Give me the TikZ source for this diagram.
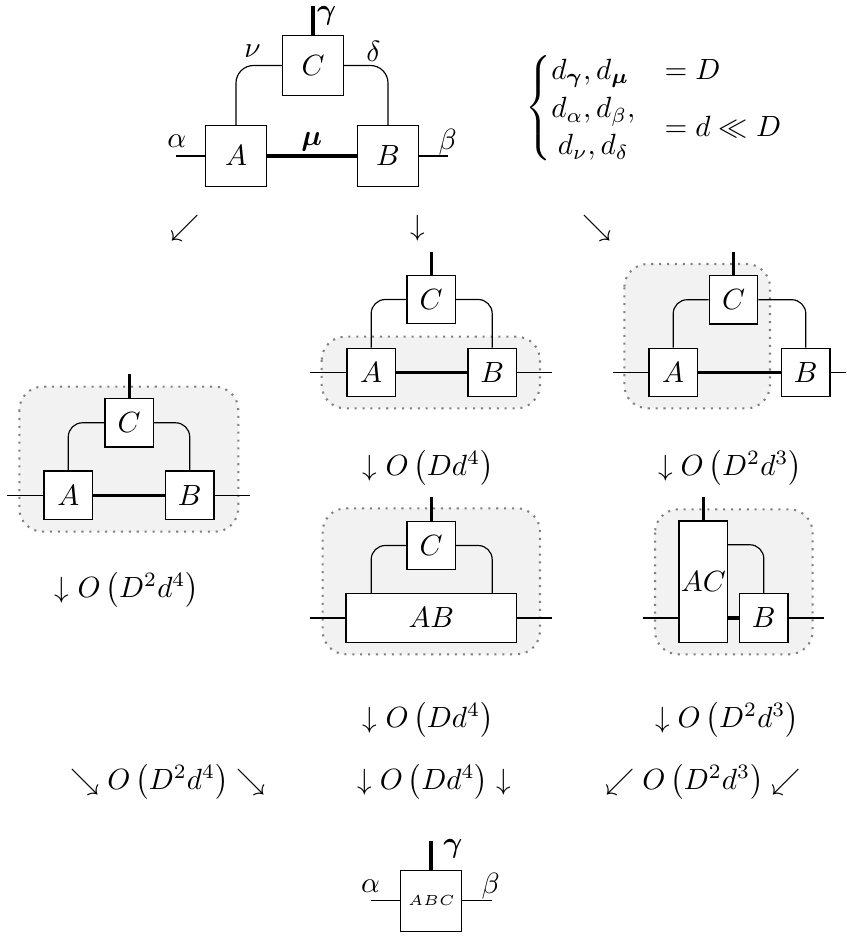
\documentclass[tikz,border=0pt]{standalone}
\usepackage{amsmath,amssymb}
\begin{document}
\begin{tikzpicture}[x=0.342pt,y=-0.342pt,
  bigbox/.style={draw,fill=white,minimum size=20.8pt,inner sep=0pt,line width=0.4pt},
  smallbox/.style={draw,fill=white,minimum size=16.6pt,inner sep=0pt,line width=0.4pt},
  wire/.style={line width=0.4pt,rounded corners=6pt},
  swire/.style={line width=0.4pt,rounded corners=4.8pt},
  bond/.style={line width=1.4pt},
  sbond/.style={line width=1.1pt},
  group/.style={draw=gray,dotted,line width=0.7pt,fill=gray!10,rounded corners=8pt},
  lbl/.style={inner sep=0pt}]
\useasboundingbox (0,0) rectangle (846,936);

% ---------- contraction groups (drawn first, behind the tensors)
\path[group] (19.3,386.7) rectangle (238.3,531.7);
\path[group] (321.7,336.7) rectangle (540,408.3);
\path[group] (624.3,264) rectangle (770,408.3);
\path[group] (322.7,508.3) rectangle (540,654.3);
\path[group] (655,509.3) rectangle (812.7,654.3);

% ---------- original network
\node[bigbox] (C0) at (313,65.5) {$C$};
\node[bigbox] (A0) at (236,156) {$A$};
\node[bigbox] (B0) at (388,156) {$B$};
\coordinate (g0) at (313,6);
\coordinate (a0) at (176,156);
\coordinate (b0) at (447.7,156);
\draw[wire] (C0.west) -| (A0.north);
\draw[wire] (C0.east) -| (B0.north);
\draw[bond] (A0) -- (B0);
\draw[bond] (C0) -- (g0);
\draw[line width=0.4pt] (a0) -- (A0);
\draw[line width=0.4pt] (B0) -- (b0);
\node[lbl] (lg0) at (326.7,16) {$\boldsymbol{\gamma}$};
\node[lbl] (lm0) at (311.7,142) {$\boldsymbol{\mu}$};
\node[lbl] (la0) at (176.7,141.7) {$\alpha$};
\node[lbl] (lb0) at (447.7,141.7) {$\beta$};
\node[lbl] (ln0) at (252.5,51.7) {$\nu$};
\node[lbl] (ld0) at (373.3,51.7) {$\delta$};

% ---------- bond dimensions
\node[lbl] (dims) at (655,108) {$\begin{cases}
  d_{\boldsymbol{\gamma}}, d_{\boldsymbol{\mu}} & = D\\
  {\def\arraystretch{1.05}\begin{array}{@{}c@{}} d_\alpha, d_\beta,\\ d_\nu, d_\delta \end{array}} & = d \ll D
\end{cases}$};

% ---------- branching arrows
\node[lbl] (sw) at (185,228) {$\swarrow$};
\node[lbl] (dn) at (418.3,228) {$\downarrow$};
\node[lbl] (se) at (596.7,228) {$\searrow$};

% ---------- left branch: contract all at once
\node[smallbox] (CL) at (129.2,422.8) {$C$};
\node[smallbox] (AL) at (68.3,495.2) {$A$};
\node[smallbox] (BL) at (189.7,495.2) {$B$};
\coordinate (gL) at (129.2,374);
\coordinate (aL) at (7.3,495.2);
\coordinate (bL) at (250,495.2);
\draw[swire] (CL.west) -| (AL.north);
\draw[swire] (CL.east) -| (BL.north);
\draw[sbond] (AL) -- (BL);
\draw[sbond] (CL) -- (gL);
\draw[line width=0.4pt] (aL) -- (AL);
\draw[line width=0.4pt] (BL) -- (bL);
\node (costL) at (127,590) {$\downarrow O\left(D^2 d^4\right)$};

% ---------- middle branch, step 1: contract A with B
\node[smallbox] (CM) at (431.2,299.5) {$C$};
\node[smallbox] (AM) at (371.2,372.5) {$A$};
\node[smallbox] (BM) at (492.2,372.5) {$B$};
\coordinate (gM) at (431.2,251.7);
\coordinate (aM) at (310,372.5);
\coordinate (bM) at (552.3,372.5);
\draw[swire] (CM.west) -| (AM.north);
\draw[swire] (CM.east) -| (BM.north);
\draw[sbond] (AM) -- (BM);
\draw[sbond] (CM) -- (gM);
\draw[line width=0.4pt] (aM) -- (AM);
\draw[line width=0.4pt] (BM) -- (bM);
\node (costM1) at (428.3,468) {$\downarrow O\left(D d^4\right)$};

% ---------- middle branch, step 2: contract AB with C
\node[smallbox] (CN) at (431.2,545.5) {$C$};
\node[smallbox,minimum width=58.4pt] (ABN) at (431.3,618) {$AB$};
\coordinate (gN) at (431.2,497.3);
\coordinate (aN) at (310,618);
\coordinate (bN) at (552.3,618);
\draw[swire] (CN.west) -| (ABN.north -| AM);
\draw[swire] (CN.east) -| (ABN.north -| BM);
\draw[sbond] (CN) -- (gN);
\draw[line width=0.4pt] (aN) -- (ABN);
\draw[line width=0.4pt] (ABN) -- (bN);
\node (costM2) at (428.3,720) {$\downarrow O\left(D d^4\right)$};

% ---------- right branch, step 1: contract A with C
\node[smallbox] (CR) at (733.5,299.7) {$C$};
\node[smallbox] (AR) at (673.2,372.5) {$A$};
\node[smallbox] (BR) at (805.8,372.5) {$B$};
\coordinate (gR) at (733.5,251.7);
\coordinate (aR) at (612.7,372.5);
\coordinate (bR) at (846,372.5);
\draw[swire] (CR.west) -| (AR.north);
\draw[swire] (CR.east) -| (BR.north);
\draw[sbond] (AR) -- (BR);
\draw[sbond] (CR) -- (gR);
\draw[line width=0.4pt] (aR) -- (AR);
\draw[line width=0.4pt] (BR) -- (bR);
\node (costR1) at (730,468) {$\downarrow O\left(D^2 d^3\right)$};

% ---------- right branch, step 2: contract AC with B
\node[smallbox,minimum height=41.5pt] (ACS) at (703.3,581.7) {$AC$};
\node[smallbox] (BS) at (763.8,618) {$B$};
\coordinate (gS) at (703.3,497.3);
\coordinate (aS) at (643.3,618);
\coordinate (bS) at (824.3,618);
\draw[swire] ([yshift=-8.3pt]ACS.north east) -| (BS.north);
\draw[sbond] (ACS.east |- BS) -- (BS.west);
\draw[sbond] (ACS) -- (gS);
\draw[line width=0.4pt] (aS) -- (ACS.west |- aS);
\draw[line width=0.4pt] (BS) -- (bS);
\node (costR2) at (727,720) {$\downarrow O\left(D^2 d^3\right)$};

% ---------- converging costs
\node (joinL) at (168,782) {$\searrow O\left(D^2 d^4\right) \searrow$};
\node (joinM) at (434,782) {$\downarrow O\left(D d^4\right) \downarrow$};
\node (joinR) at (703,782) {$\swarrow O\left(D^2 d^3\right) \swarrow$};

% ---------- result
\node[bigbox] (ABC) at (431.3,900.7) {\tiny $ABC$};
\coordinate (gE) at (431.3,840.7);
\coordinate (aE) at (371,900.7);
\coordinate (bE) at (491.7,900.7);
\draw[bond] (ABC) -- (gE);
\draw[line width=0.4pt] (aE) -- (ABC);
\draw[line width=0.4pt] (ABC) -- (bE);
\node[lbl] (lgE) at (453,849) {$\boldsymbol{\gamma}$};
\node[lbl] (laE) at (370.5,886) {$\alpha$};
\node[lbl] (lbE) at (490.7,886) {$\beta$};
\end{tikzpicture}
\end{document}
